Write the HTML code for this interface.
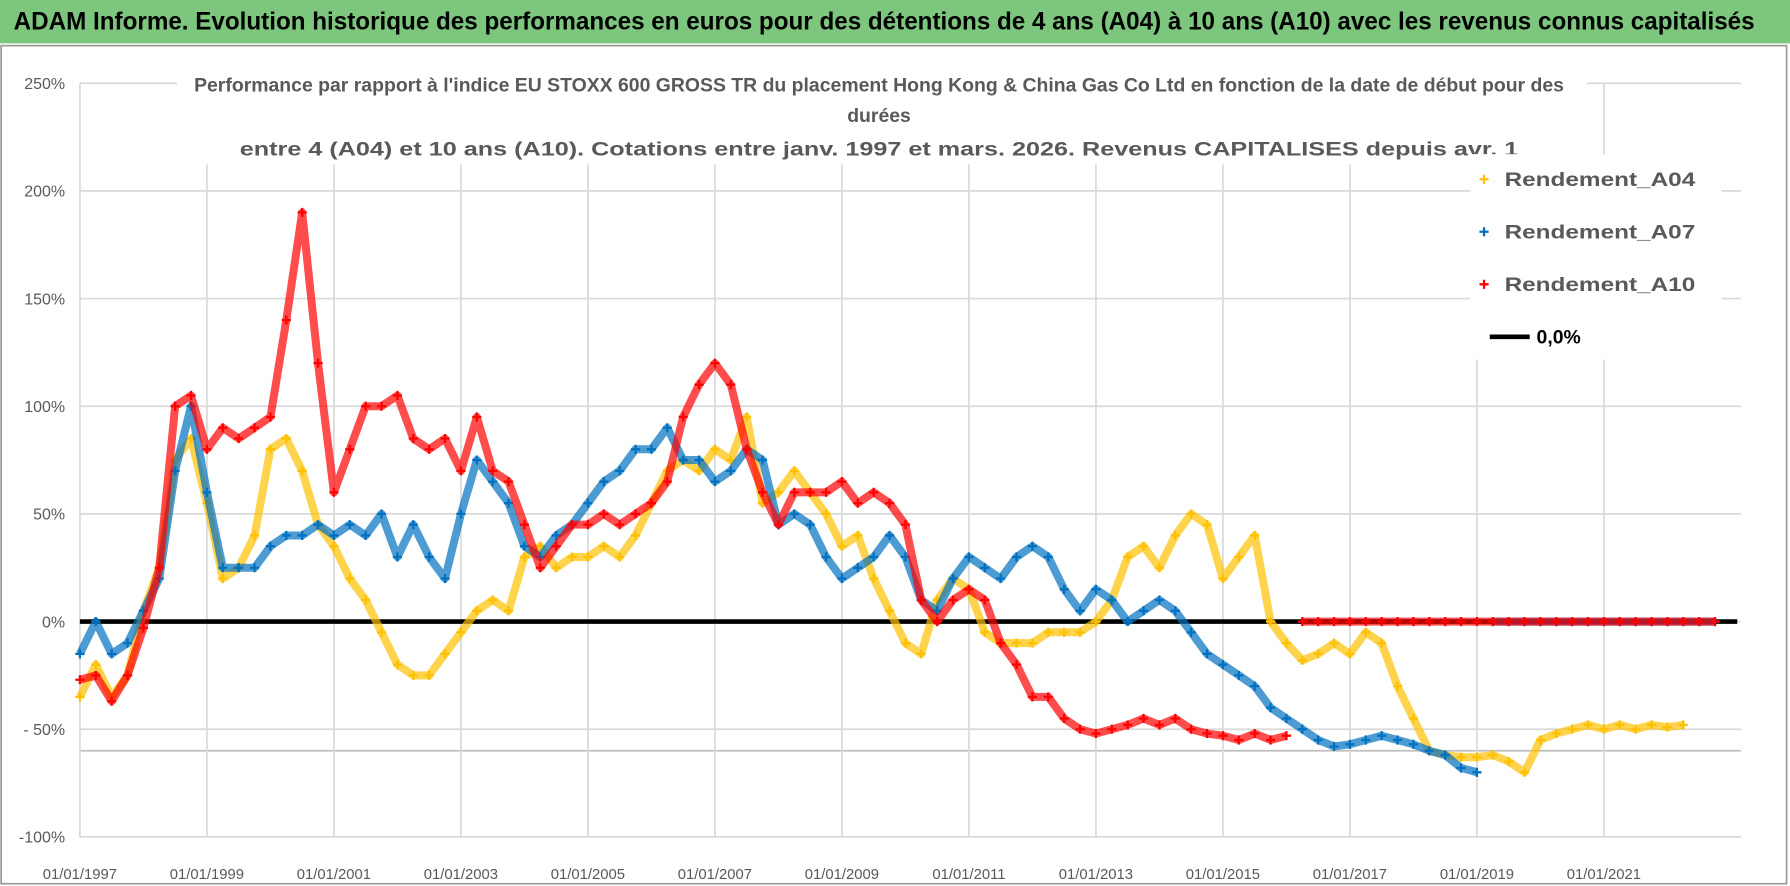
<!DOCTYPE html>
<html><head><meta charset="utf-8"><style>
html,body{margin:0;padding:0;background:#fff;}
svg{display:block;font-family:"Liberation Sans",sans-serif;}
</style></head><body>
<svg id="chart" width="1790" height="886" viewBox="0 0 1568 776" preserveAspectRatio="none">
<rect x="0" y="0" width="1568" height="776" fill="#fff"/>
<rect x="0" y="0" width="1568" height="38" fill="#7dc67d"/>
<text x="12" y="26" font-size="22" font-weight="bold" fill="#000" textLength="1525" lengthAdjust="spacingAndGlyphs">ADAM Informe. Evolution historique des performances en euros pour des détentions de 4 ans (A04) à 10 ans (A10) avec les revenus connus capitalisés</text>
<rect x="1" y="40" width="1564" height="734" fill="none" stroke="#9a9a9a" stroke-width="1.5"/>
<g id="grid"></g>
<g id="series"></g>
<g id="titlebox">
<rect x="155" y="56" width="1235" height="88" fill="#fff"/>
<text x="170" y="80" font-size="17" font-weight="bold" fill="#595959" textLength="1200" lengthAdjust="spacingAndGlyphs">Performance par rapport à l'indice EU STOXX 600 GROSS TR  du placement Hong Kong &amp; China Gas Co Ltd en fonction de la date de début pour des</text>
<text x="770" y="107" font-size="17" font-weight="bold" fill="#595959" text-anchor="middle">durées</text>
<text x="210" y="136" font-size="17" font-weight="bold" fill="#595959" textLength="1120" lengthAdjust="spacingAndGlyphs">entre 4 (A04) et 10 ans (A10).  Cotations entre janv. 1997 et mars. 2026.  Revenus CAPITALISES depuis avr. 1</text>
</g>
<g id="legend">
<rect x="1288" y="135" width="220" height="180" fill="#fff"/>
<g>
<path d="M1296 157h8M1300 153v8" stroke="#ffc000" stroke-width="2"/>
<text x="1318" y="163" font-size="17" font-weight="bold" fill="#595959" textLength="167" lengthAdjust="spacingAndGlyphs">Rendement_A04</text></g>
<g>
<path d="M1296 203h8M1300 199v8" stroke="#0070c0" stroke-width="2"/>
<text x="1318" y="209" font-size="17" font-weight="bold" fill="#595959" textLength="167" lengthAdjust="spacingAndGlyphs">Rendement_A07</text></g>
<g>
<path d="M1296 249h8M1300 245v8" stroke="#ff0000" stroke-width="2"/>
<text x="1318" y="255" font-size="17" font-weight="bold" fill="#595959" textLength="167" lengthAdjust="spacingAndGlyphs">Rendement_A10</text></g>
<g>
<line x1="1305" y1="295" x2="1340" y2="295" stroke="#000" stroke-width="4"/>
<text x="1346" y="301" font-size="17" font-weight="bold" fill="#000">0,0%</text></g>
</g>
</svg>
<script>
const yTickValues = [250, 200, 150, 100, 50, 0, -50, -100];
const yTickLabels = ["250%", "200%", "150%", "100%", "50%", "0%", "- 50%", "-100%"];
const xTickYears = [1997, 1999, 2001, 2003, 2005, 2007, 2009, 2011, 2013, 2015, 2017, 2019, 2021];
const xTickLabels = ["01/01/1997","01/01/1999","01/01/2001","01/01/2003","01/01/2005","01/01/2007","01/01/2009","01/01/2011","01/01/2013","01/01/2015","01/01/2017","01/01/2019","01/01/2021"];
const startYear = 1997;
const stepYears = 0.25;
// quarterly values (%) from 1997.00
const rendementA04 = [-35,-20,-35,-25, 5,25,75,85, 55,20,25,40, 80,85,70,45, 35,20,10,-5, -20,-25,-25,-15, -5,5,10,5, 30,35,25,30, 30,35,30,40, 55,70,75,70, 80,75,95,55, 60,70,60,50, 35,40,20,5, -10,-15,10,20, 15,-5,-10,-10, -10,-5,-5,-5, 0,10,30,35, 25,40,50,45, 20,30,40,0, -10,-18,-15,-10, -15,-5,-10,-30, -45,-60,-62,-63, -63,-62,-65,-70, -55,-52,-50,-48, -50,-48,-50,-48, -49,-48];
const rendementA07 = [-15,0,-15,-10, 5,20,70,100, 60,25,25,25, 35,40,40,45, 40,45,40,50, 30,45,30,20, 50,75,65,55, 35,30,40,45, 55,65,70,80, 80,90,75,75, 65,70,80,75, 45,50,45,30, 20,25,30,40, 30,10,5,20, 30,25,20,30, 35,30,15,5, 15,10,0,5, 10,5,-5,-15, -20,-25,-30,-40, -45,-50,-55,-58, -57,-55,-53,-55, -57,-60,-62,-68, -70,0,0,0, 0,0,0,0, 0,0,0,0, 0,0,0,0];
const rendementA10 = [-27,-25,-37,-25, -3,25,100,105, 80,90,85,90, 95,140,190,120, 60,80,100,100, 105,85,80,85, 70,95,70,65, 45,25,35,45, 45,50,45,50, 55,65,95,110, 120,110,80,60, 45,60,60,60, 65,55,60,55, 45,10,0,10, 15,10,-10,-20, -35,-35,-45,-50, -52,-50,-48,-45, -48,-45,-50,-52, -53,-55,-52,-55, -53,0,0,0, 0,0,0,0, 0,0,0,0, 0,0,0,0, 0,0,0,0, 0,0,0,0, 0,0,0,0];
const zeroLineRange = [1997, 2023.1];

const NS = "http://www.w3.org/2000/svg";
const plotLeft = 70, plotRight = 1525, plotTop = 73, plotBottom = 733;
function xScale(year){ return plotLeft + (year - 1997) * 55.625; }
function yScale(v){ return 544.4 - v * 1.886; }
function mk(tag, attrs, parent){ const e = document.createElementNS(NS, tag); for (const k in attrs) e.setAttribute(k, attrs[k]); parent.appendChild(e); return e; }

const grid = document.getElementById('grid');
yTickValues.forEach((v, i) => {
  const l = mk('line', {x1: plotLeft, x2: plotRight, y1: yScale(v), y2: yScale(v), stroke: '#d9d9d9', 'stroke-width': 1.5}, grid);
  
  
  const t = mk('text', {x: 57, y: yScale(v) + 5, 'font-size': 14, fill: '#595959', 'text-anchor': 'end'}, grid);
  t.textContent = yTickLabels[i];
  
  
});
const extra = mk('line', {x1: plotLeft, x2: plotRight, y1: yScale(-60), y2: yScale(-60), stroke: '#bfbfbf', 'stroke-width': 1.5}, grid);


xTickYears.forEach((yr, i) => {
  const l = mk('line', {x1: xScale(yr), x2: xScale(yr), y1: plotTop, y2: plotBottom, stroke: '#d9d9d9', 'stroke-width': 1.5}, grid);
  
  
  const t = mk('text', {x: xScale(yr), y: 770, 'font-size': 13, fill: '#595959', 'text-anchor': 'middle'}, grid);
  t.textContent = xTickLabels[i];
  
  
});

const series = document.getElementById('series');
const zl = mk('line', {x1: xScale(zeroLineRange[0]), x2: xScale(zeroLineRange[1]), y1: yScale(0), y2: yScale(0), stroke: '#000', 'stroke-width': 4}, series);



function drawSeries(vals, color, name){
  const g = mk('g', {}, series);
  
  
  let tail = vals.length;
  while (tail > 0 && vals[tail - 1] === 0) tail--;
  const segs = [[0, tail], [tail, vals.length]];
  segs.forEach(([a, b]) => {
    if (b - a < 2) return;
    const pts = [];
    for (let i = a; i < b; i++) pts.push(xScale(startYear + i * stepYears).toFixed(1) + ',' + yScale(vals[i]).toFixed(1));
    mk('polyline', {points: pts.join(' '), fill: 'none', stroke: color, 'stroke-width': 7, 'stroke-linejoin': 'round', 'stroke-opacity': 0.7}, g);
  });
  let d = '';
  vals.forEach((v, i) => {
    const x = xScale(startYear + i * stepYears), y = yScale(v);
    d += `M${x-4} ${y}h8M${x} ${y-4}v8`;
  });
  const p = mk('path', {d: d, stroke: color, 'stroke-width': 2, fill: 'none'}, g);
  
  
}
drawSeries(rendementA04, '#ffc000', 'series-a04');
drawSeries(rendementA07, '#0070c0', 'series-a07');
drawSeries(rendementA10, '#ff0000', 'series-a10');
</script>
</body></html>
